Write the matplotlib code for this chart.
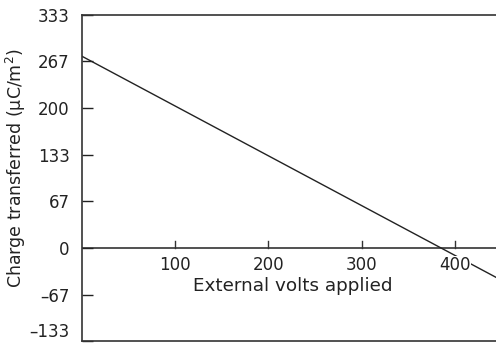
"""Charge transferred versus external volts applied."""

import matplotlib.pyplot as plt

volts = [0, 444]
charge = [274, -42]
y_ticks = [-133, -67, 0, 67, 133, 200, 267, 333]
x_ticks = [100, 200, 300, 400]

FONT = "DejaVu Sans"
SIZE = 12


def main() -> None:
    plt.rcParams["font.family"] = [FONT]
    fig = plt.figure(figsize=(4.96, 3.44), dpi=100)
    ax = fig.add_axes([82 / 496, 3 / 344, 1 - 82 / 496 + 0.02, 326 / 344])

    ax.plot(volts, charge, color="#222222", linewidth=1.0, zorder=2)
    ax.set_xlim(0, 444 + 0.02 * 496 / 0.933)
    ax.set_ylim(-133, 333)

    ax.spines["right"].set_visible(False)
    for side in ("left", "top", "bottom"):
        ax.spines[side].set_linewidth(1.2)
        ax.spines[side].set_color("#333333")
    # x axis through zero, ticks pointing up
    ax.axhline(0, color="#333333", linewidth=1.2, zorder=1)

    ax.set_yticks(y_ticks)
    ax.set_yticklabels([str(v).replace("-", "\u2013") for v in y_ticks])
    ax.tick_params(axis="y", direction="in", length=8, width=1.0,
                   labelsize=SIZE, pad=9, colors="#222222")
    ax.get_yticklabels()[0].set_va("bottom")
    ax.set_xticks([])
    for value in x_ticks:
        ax.plot([value, value], [0, 10], color="#333333", linewidth=1.0,
                zorder=1)
        ax.text(value, -12, str(value), ha="center", va="top", fontsize=SIZE,
                color="#222222", zorder=3,
                bbox=dict(facecolor="white", edgecolor="none", pad=0.5))

    ax.text(226, -42, "External volts applied", ha="center", va="top",
            fontsize=13.2, color="#222222")
    fig.text(16 / 496, 1 - 168 / 344, "Charge transferred (\u03bcC/m$^2$)",
             rotation=90, ha="center", va="center", fontsize=12.5,
             color="#222222")

    fig.savefig("out.png", dpi=100)
    plt.close(fig)


if __name__ == "__main__":
    main()
